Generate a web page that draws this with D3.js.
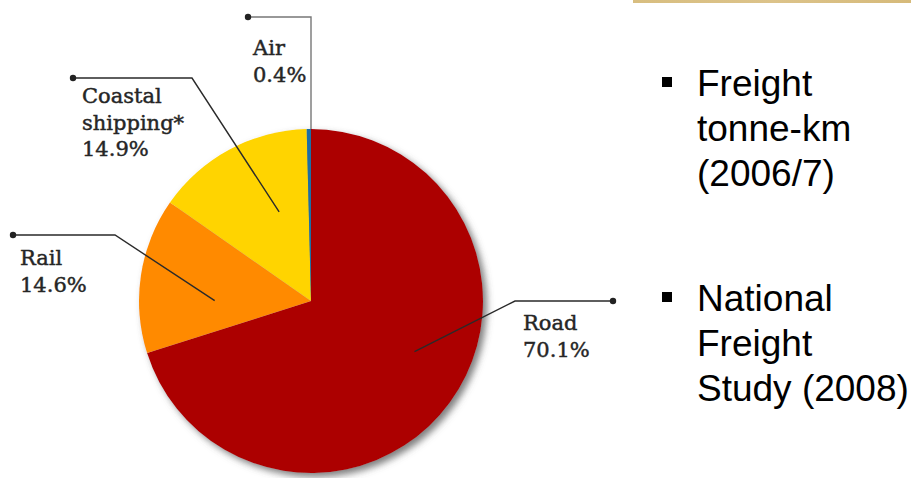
<!DOCTYPE html>
<html>
<head>
<meta charset="utf-8">
<script src="https://cdn.jsdelivr.net/npm/d3@7/dist/d3.min.js"></script>
<style>
  html, body { margin: 0; padding: 0; background: #fff; }
  svg { display: block; }
</style>
</head>
<body>
<svg id="chart" width="911" height="478"></svg>
<script>
// Freight tonne-km share by mode (2006/7)
const modes = ["Road", "Rail", "Coastal shipping*", "Air"];
const shares = [70.1, 14.6, 14.9, 0.4];
const modeColors = ["#AC0005", "#FF8A00", "#FFD400", "#1B6EA4"];
const labelLines = [["Road"], ["Rail"], ["Coastal", "shipping*"], ["Air"]];
const bulletItems = [
  ["Freight", "tonne-km", "(2006/7)"],
  ["National", "Freight", "Study (2008)"]
];

const svg = d3.select("#chart");
const W = 911, H = 478;
const cx = 311, cy = 301, R = 172;

// soft shadow under the pie
const defs = svg.append("defs");
const f = defs.append("filter").attr("id", "pieShadow")
  .attr("x", "-20%").attr("y", "-20%").attr("width", "140%").attr("height", "140%");
f.append("feDropShadow").attr("dx", 4).attr("dy", 4).attr("stdDeviation", 3.5)
  .attr("flood-color", "#555").attr("flood-opacity", 0.75);

const gold = defs.append("linearGradient").attr("id", "goldBar").attr("x1", "0").attr("x2", "1");
gold.append("stop").attr("offset", "0").attr("stop-color", "#D8BE80");
gold.append("stop").attr("offset", "0.5").attr("stop-color", "#DCC38A");
gold.append("stop").attr("offset", "1").attr("stop-color", "#D6BA7A");

// decorative rule at the top right
svg.append("rect").attr("x", 633).attr("y", 0).attr("width", W - 633).attr("height", 3)
  .attr("fill", "url(#goldBar)");

const data = modes.map((m, i) => ({ mode: m, value: shares[i], color: modeColors[i], lines: labelLines[i] }));

const pie = d3.pie().value(d => d.value).sort(null);
const arcs = pie(data);
const arc = d3.arc().innerRadius(0).outerRadius(R);

const g = svg.append("g").attr("transform", `translate(${cx},${cy})`);
g.append("g").attr("filter", "url(#pieShadow)")
  .selectAll("path").data(arcs).join("path")
  .attr("d", arc)
  .attr("fill", d => d.data.color);

// leader layout: anchor inside slice (fraction of slice span, fraction of radius),
// elbow and label dot position
const leaders = {
  "Road":              { t: 0.46, r: 0.67, elbow: [515, 301], dot: [613, 301], text: [523, 330] },
  "Rail":              { t: 0.34, r: 0.56, elbow: [115, 235], dot: [13, 235],  text: [20, 265] },
  "Coastal shipping*": { t: 0.66, r: 0.55, elbow: [192, 78],  dot: [73, 78],   text: [82, 103] },
  "Air":               { t: 1.0,  r: 1.0,  elbow: null,       dot: [248, 17],  text: [253, 55] }
};

const ann = svg.append("g");
arcs.forEach(a => {
  const L = leaders[a.data.mode];
  const ang = a.startAngle + (a.endAngle - a.startAngle) * L.t;
  const p = d3.pointRadial(ang, R * L.r);
  const inner = [cx + p[0], cy + p[1]];
  const elbow = L.elbow || [inner[0], L.dot[1]];
  const pts = [inner, elbow, L.dot];
  ann.append("path")
    .attr("d", d3.line()(pts))
    .attr("fill", "none")
    .attr("stroke", a.data.mode === "Air" ? "#777" : "#2a2a2a")
    .attr("stroke-width", 1.4);
  ann.append("circle").attr("cx", L.dot[0]).attr("cy", L.dot[1]).attr("r", 3.2).attr("fill", "#222");

  const lines = a.data.lines.concat([d3.format(".1f")(a.data.value) + "%"]);
  const t = ann.append("text")
    .attr("x", L.text[0]).attr("y", L.text[1])
    .attr("font-family", "'DejaVu Serif', serif")
    .attr("font-size", 21)
    .attr("fill", "#262626")
    .attr("stroke", "#262626")
    .attr("stroke-width", 0.45);
  lines.forEach((s, i) => {
    t.append("tspan").attr("x", L.text[0]).attr("dy", i === 0 ? 0 : 26.5).text(s);
  });
});

// bullet text on the right
const bullets = svg.append("g");
const groupTops = [96, 311];
bulletItems.forEach((lines, gi) => {
  const y0 = groupTops[gi];
  bullets.append("rect").attr("x", 662).attr("y", y0 - 19).attr("width", 10).attr("height", 10).attr("fill", "#000");
  const t = bullets.append("text")
    .attr("x", 697).attr("y", y0)
    .attr("font-family", "'Liberation Sans', Arial, sans-serif")
    .attr("font-size", 37)
    .attr("fill", "#000");
  lines.forEach((s, i) => {
    t.append("tspan").attr("x", 697).attr("dy", i === 0 ? 0 : 45).text(s);
  });
});
</script>
</body>
</html>
